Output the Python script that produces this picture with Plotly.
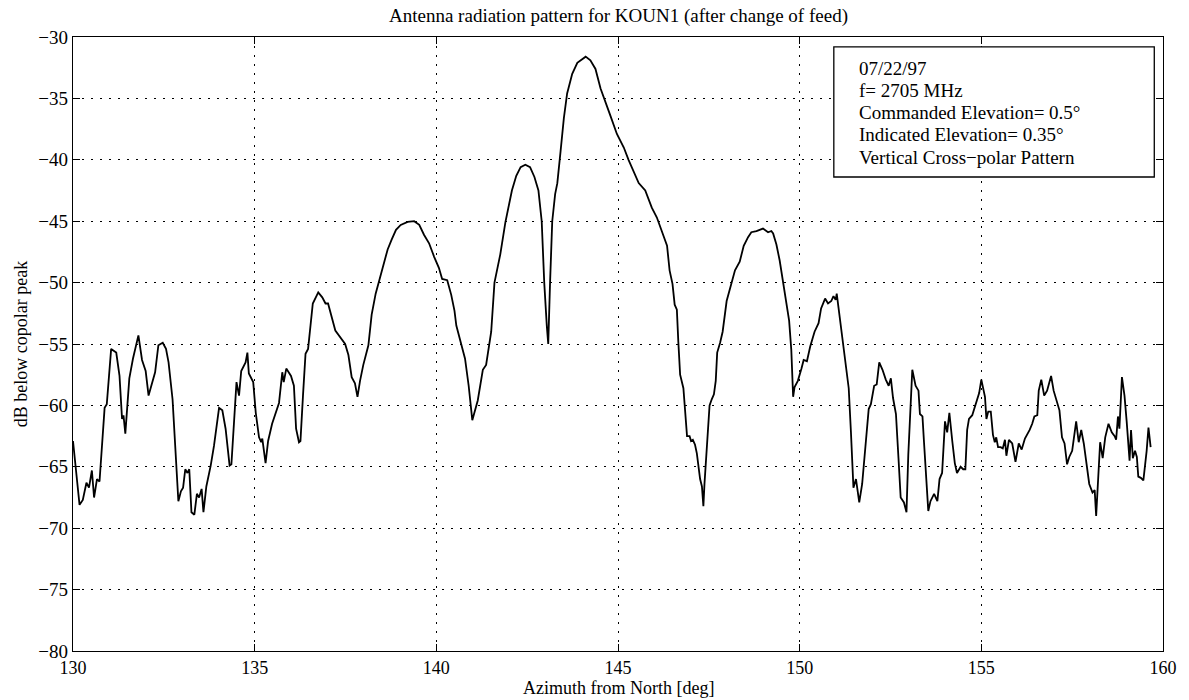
import plotly.graph_objects as go

azimuth = [
    130.0, 130.18, 130.27, 130.37, 130.44, 130.52, 130.58, 130.66, 130.73, 130.8,
    130.87, 130.93, 131.05, 131.19, 131.28, 131.35, 131.39, 131.44, 131.55, 131.65,
    131.8, 131.9, 132.0, 132.08, 132.15, 132.26, 132.35, 132.47, 132.56, 132.63,
    132.74, 132.83, 132.9, 132.97, 133.03, 133.09, 133.15, 133.2, 133.26, 133.34,
    133.41, 133.47, 133.54, 133.59, 133.67, 133.79, 133.88, 134.02, 134.11, 134.2,
    134.31, 134.36, 134.46, 134.5, 134.57, 134.63, 134.75, 134.8, 134.84, 134.96,
    135.03, 135.12, 135.18, 135.21, 135.3, 135.37, 135.48, 135.58, 135.67, 135.76,
    135.8, 135.87, 136.0, 136.08, 136.14, 136.22, 136.26, 136.33, 136.4, 136.47,
    136.6, 136.75, 136.86, 136.95, 137.02, 137.22, 137.35, 137.49, 137.58, 137.67,
    137.76, 137.83, 137.9, 137.99, 138.13, 138.22, 138.33, 138.45, 138.57, 138.66,
    138.77, 138.89, 139.02, 139.21, 139.39, 139.53, 139.66, 139.8, 139.94, 140.07,
    140.16, 140.3, 140.41, 140.5, 140.55, 140.68, 140.79, 140.89, 140.99, 141.14,
    141.28, 141.37, 141.51, 141.6, 141.76, 141.9, 142.08, 142.2, 142.32, 142.45,
    142.58, 142.7, 142.81, 142.9, 142.97, 143.04, 143.08, 143.13, 143.19, 143.27,
    143.33, 143.42, 143.51, 143.6, 143.74, 143.88, 144.11, 144.24, 144.38, 144.52,
    144.65, 144.79, 144.97, 145.16, 145.29, 145.43, 145.57, 145.75, 145.93, 146.07,
    146.2, 146.35, 146.42, 146.5, 146.56, 146.62, 146.66, 146.71, 146.8, 146.85,
    146.9, 146.97, 147.01, 147.06, 147.12, 147.17, 147.22, 147.26, 147.31, 147.35,
    147.38, 147.42, 147.46, 147.52, 147.58, 147.64, 147.69, 147.73, 147.81, 147.88,
    147.99, 148.13, 148.22, 148.35, 148.46, 148.58, 148.67, 148.81, 148.99, 149.13,
    149.22, 149.27, 149.36, 149.45, 149.54, 149.64, 149.71, 149.77, 149.82, 149.86,
    149.95, 150.05, 150.11, 150.2, 150.29, 150.41, 150.52, 150.59, 150.7, 150.78,
    150.87, 150.93, 150.99, 151.02, 151.11, 151.23, 151.35, 151.41, 151.48, 151.55,
    151.64, 151.72, 151.82, 151.9, 151.96, 152.05, 152.12, 152.19, 152.28, 152.37,
    152.45, 152.51, 152.57, 152.65, 152.72, 152.78, 152.87, 152.94, 152.99, 153.06,
    153.1, 153.19, 153.27, 153.31, 153.38, 153.42, 153.49, 153.54, 153.6, 153.7,
    153.79, 153.85, 153.92, 154.0, 154.06, 154.12, 154.2, 154.27, 154.33, 154.43,
    154.5, 154.56, 154.61, 154.66, 154.75, 154.84, 154.94, 155.0, 155.05, 155.1,
    155.14, 155.19, 155.26, 155.32, 155.37, 155.41, 155.46, 155.53, 155.59, 155.65,
    155.69, 155.76, 155.85, 155.94, 156.03, 156.11, 156.2, 156.26, 156.33, 156.4,
    156.46, 156.54, 156.58, 156.65, 156.73, 156.81, 156.92, 156.99, 157.06, 157.15,
    157.22, 157.29, 157.36, 157.42, 157.5, 157.56, 157.61, 157.68, 157.75, 157.82,
    157.88, 157.97, 158.06, 158.12, 158.16, 158.21, 158.27, 158.34, 158.41, 158.5,
    158.59, 158.67, 158.71, 158.76, 158.8, 158.87, 158.94, 159.0, 159.05, 159.08,
    159.12, 159.17, 159.23, 159.28, 159.32, 159.39, 159.46, 159.51, 159.55, 159.6,
    159.62, 159.66,
]

db_below_copolar = [
    -62.9, -68.1, -67.7, -66.3, -66.7, -65.3, -67.5, -66.0, -66.2, -62.8,
    -60.2, -59.9, -55.4, -55.7, -57.6, -61.1, -60.8, -62.3, -57.8, -56.2,
    -54.3, -56.3, -57.2, -59.2, -58.5, -57.3, -55.1, -54.9, -55.4, -56.5,
    -59.5, -63.8, -67.8, -67.0, -66.7, -65.2, -65.5, -65.2, -68.7, -68.9,
    -67.2, -67.5, -66.8, -68.7, -66.6, -64.9, -63.3, -60.2, -60.4, -61.9,
    -64.9, -64.8, -60.6, -58.1, -59.2, -57.2, -56.5, -55.7, -57.4, -58.1,
    -60.6, -62.6, -63.0, -62.7, -64.7, -62.9, -61.5, -60.6, -59.8, -57.3,
    -58.1, -57.0, -57.6, -58.4, -61.9, -63.0, -62.9, -59.2, -55.8, -55.4,
    -51.7, -50.8, -51.2, -51.7, -51.7, -53.9, -54.4, -55.0, -55.9, -57.7,
    -58.2, -59.3, -58.0, -56.7, -55.1, -52.6, -50.9, -49.6, -48.3, -47.3,
    -46.5, -45.7, -45.3, -45.05, -45.0, -45.3, -46.1, -46.8, -47.9, -48.8,
    -49.7, -49.8, -51.0, -52.3, -53.5, -55.1, -56.2, -58.4, -61.2, -59.6,
    -57.1, -56.7, -54.0, -50.0, -47.7, -45.1, -42.5, -41.3, -40.6, -40.4,
    -40.6, -41.4, -42.5, -45.0, -50.0, -53.5, -55.0, -50.0, -45.0, -42.8,
    -41.9, -39.3, -36.6, -34.6, -33.0, -32.1, -31.6, -31.9, -32.6, -34.2,
    -35.2, -36.4, -37.9, -39.0, -40.0, -41.0, -41.9, -42.5, -43.9, -44.7,
    -45.8, -47.0, -49.0, -50.1, -51.8, -52.2, -54.8, -57.5, -58.6, -60.7,
    -62.5, -62.5, -62.9, -62.8, -63.2, -63.9, -65.1, -66.0, -66.6, -68.2,
    -66.4, -64.3, -62.1, -60.0, -59.5, -59.1, -58.0, -55.7, -54.9, -54.0,
    -51.5, -50.1, -49.0, -48.3, -47.0, -46.3, -45.9, -45.8, -45.6, -45.9,
    -45.8, -46.0, -46.9, -48.2, -49.9, -51.5, -53.1, -55.5, -59.3, -58.5,
    -58.0, -57.0, -56.3, -56.4, -55.2, -54.0, -53.3, -52.1, -51.3, -51.7,
    -51.5, -51.1, -51.4, -50.9, -52.9, -55.6, -58.6, -62.1, -66.7, -66.0,
    -67.9, -66.4, -63.2, -60.3, -59.9, -58.4, -58.3, -56.5, -57.1, -57.9,
    -58.4, -57.8, -59.4, -60.7, -64.3, -67.5, -67.9, -68.7, -64.0, -58.8,
    -57.1, -58.4, -58.8, -60.7, -60.9, -62.9, -66.2, -68.6, -67.8, -67.2,
    -67.8, -66.0, -65.5, -61.3, -62.2, -60.6, -62.9, -64.7, -65.5, -65.0,
    -65.2, -65.2, -62.0, -61.1, -60.8, -60.0, -59.0, -57.9, -58.6, -59.3,
    -61.1, -60.5, -60.5, -62.4, -63.0, -62.6, -63.4, -63.4, -63.5, -62.8,
    -64.1, -62.8, -63.1, -64.6, -63.1, -63.6, -62.7, -62.4, -62.0, -61.5,
    -60.9, -60.8, -58.8, -57.9, -59.2, -58.8, -57.6, -58.8, -59.6, -60.4,
    -62.6, -63.1, -64.8, -64.2, -63.7, -62.3, -61.3, -63.0, -62.0, -63.1,
    -64.5, -66.4, -67.1, -66.9, -69.0, -66.6, -63.0, -64.3, -62.6, -61.5,
    -62.2, -62.5, -62.8, -60.9, -61.9, -57.7, -59.2, -61.3, -63.3, -64.5,
    -62.0, -64.3, -63.7, -64.2, -65.8, -65.9, -66.1, -64.8, -63.7, -61.8,
    -62.4, -63.4,
]

x_ticks = [130, 135, 140, 145, 150, 155, 160]
y_ticks = [-80, -75, -70, -65, -60, -55, -50, -45, -40, -35, -30]

title_text = "Antenna radiation pattern for KOUN1 (after change of feed)"
x_label = "Azimuth from North [deg]"
y_label = "dB below copolar peak"
info_lines = [
    "07/22/97",
    "f= 2705 MHz",
    "Commanded Elevation= 0.5°",
    "Indicated Elevation= 0.35°",
    "Vertical Cross\u2212polar Pattern",
]

FONT = "Liberation Serif, Times New Roman, serif"
PLOT_H = 700 - 37 - 49

fig = go.Figure()
fig.add_trace(go.Scatter(
    x=azimuth, y=db_below_copolar, mode="lines",
    line=dict(color="black", width=1.8), showlegend=False,
))

axis_common = dict(
    showgrid=True, gridcolor="black", griddash="2px,7px", gridwidth=1.2,
    showline=True, linecolor="black", linewidth=1.3, mirror="ticks",
    ticks="inside", ticklen=7, tickcolor="black", zeroline=False,
)

fig.update_layout(
    width=1189, height=700,
    margin=dict(l=73, r=21, t=37, b=49),
    paper_bgcolor="white", plot_bgcolor="white",
    font=dict(family=FONT, color="black"),
    xaxis=dict(range=[130, 160], tickvals=x_ticks,
               tickfont=dict(family=FONT, size=18, color="black"),
               **axis_common),
    yaxis=dict(range=[-80, -30], tickvals=y_ticks,
               ticktext=["\u2212" + str(abs(v)) for v in y_ticks],
               tickfont=dict(family=FONT, size=19, color="black"),
               title=dict(text=y_label, font=dict(family=FONT, size=18), standoff=6),
               **axis_common),
)

fig.add_annotation(
    text=title_text, xref="paper", yref="paper", x=0.5, y=1.0,
    yshift=8, yanchor="bottom", showarrow=False,
    font=dict(family=FONT, size=19, color="black"),
)
fig.add_annotation(
    text=x_label, xref="paper", yref="paper", x=0.5, y=0.0,
    yshift=-48, yanchor="bottom", showarrow=False, borderpad=0,
    font=dict(family=FONT, size=18, color="black"),
)

fig.add_shape(
    type="rect", xref="paper", yref="paper",
    x0=0.698, x1=0.992, y0=0.772, y1=0.984,
    line=dict(color="black", width=1.3), fillcolor="white", layer="above",
)
line_gap = 22.3 / PLOT_H
first_y = (651 - 68) / PLOT_H
for i, line in enumerate(info_lines):
    fig.add_annotation(
        text=line, xref="paper", yref="paper",
        x=0.719, y=first_y - i * line_gap, xanchor="left", yanchor="middle",
        align="left", showarrow=False,
        font=dict(family=FONT, size=19, color="black"),
    )

fig.write_html(
    "out.html",
    config={"displayModeBar": False},
    post_script="document.body.style.margin='0';document.body.style.overflow='hidden';",
)
